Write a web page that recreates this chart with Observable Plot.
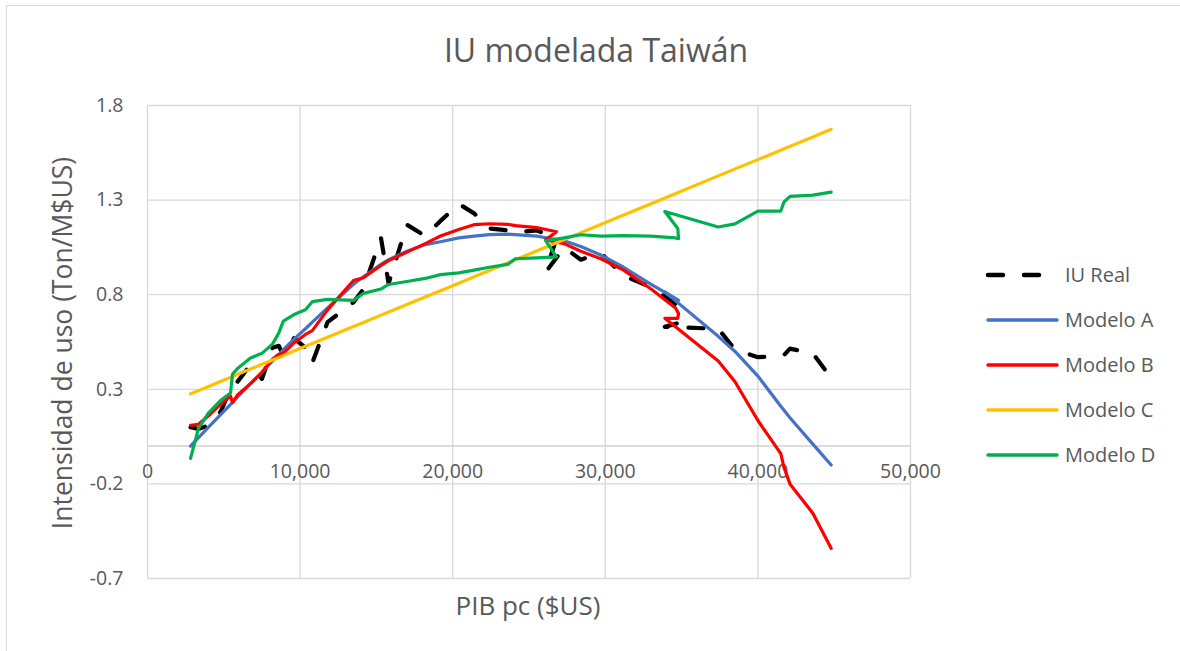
<!DOCTYPE html>
<html><head><meta charset="utf-8">
<script src="https://cdn.jsdelivr.net/npm/d3@7"></script>
<script src="https://cdn.jsdelivr.net/npm/@observablehq/plot@0.6"></script>
<style>
body{margin:0;background:#fff;font-family:"Open Sans",sans-serif;color:#595959;}
#wrap{position:relative;width:1180px;height:651px;overflow:hidden;background:#fff;}
#border{position:absolute;left:6px;top:5px;width:1200px;height:700px;border:1px solid #d9d9d9;box-sizing:border-box;}
#chart{position:absolute;left:0;top:0;}
#title{position:absolute;left:296px;width:600px;top:27px;text-align:center;font-size:32px;line-height:46px;white-space:nowrap;}
#ytitle{position:absolute;left:62px;top:343px;width:500px;margin-left:-250px;margin-top:-18px;text-align:center;font-size:26.5px;line-height:36px;transform:rotate(-90deg);white-space:nowrap;}
#xtitle{position:absolute;left:228px;width:600px;top:587px;text-align:center;font-size:26px;line-height:36px;white-space:nowrap;}
#legend{position:absolute;left:985px;top:252px;}
.row{height:45px;display:flex;align-items:center;font-size:20px;white-space:nowrap;}
.row svg{margin-right:4px;}
</style></head>
<body>
<div id="wrap">
  <div id="border"></div>
  <div id="chart"></div>
  <div id="title">IU modelada Taiwán</div>
  <div id="ytitle">Intensidad de uso (Ton/M$US)</div>
  <div id="xtitle">PIB pc ($US)</div>
  <div id="legend"></div>
</div>
<script>
const pib = [2820,3340,4000,4780,5440,5570,5900,6750,7500,8200,8600,8900,9600,10350,10800,11800,13500,14150,15300,15800,17000,18200,19200,20400,21400,22400,23600,24100,25500,26800,26100,27300,28400,29700,31200,33000,34600,34800,34750,33900,37400,38500,40000,41500,41700,42100,43600,44800];
const iuReal = [0.10,0.09,0.11,0.18,0.30,0.31,0.34,0.43,0.355,0.52,0.53,0.48,0.57,0.52,0.44,0.655,0.76,0.83,1.10,0.86,1.17,1.11,1.19,1.28,1.23,1.15,1.14,1.13,1.14,1.10,0.92,1.05,0.985,1.02,0.90,0.84,0.75,0.70,0.65,0.63,0.62,0.51,0.47,0.475,0.48,0.515,0.49,0.36];
const modeloA = [0.0,0.045,0.1,0.165,0.22,0.23,0.26,0.33,0.39,0.45,0.48,0.51,0.565,0.62,0.655,0.73,0.855,0.895,0.96,0.985,1.03,1.065,1.08,1.10,1.11,1.118,1.12,1.118,1.11,1.09,1.10,1.085,1.055,1.01,0.945,0.855,0.78,0.77,0.772,0.815,0.58,0.50,0.37,0.21,0.19,0.15,0.01,-0.1];
const modeloB = [0.11,0.115,0.16,0.22,0.265,0.23,0.27,0.33,0.39,0.46,0.485,0.49,0.545,0.59,0.61,0.72,0.875,0.89,0.955,0.98,1.025,1.07,1.11,1.145,1.17,1.175,1.172,1.165,1.155,1.133,1.09,1.07,1.03,0.99,0.93,0.83,0.73,0.70,0.675,0.675,0.45,0.34,0.135,-0.04,-0.11,-0.2,-0.355,-0.54];
const modeloC = [0.276,0.293,0.315,0.341,0.363,0.368,0.379,0.407,0.432,0.455,0.468,0.478,0.502,0.527,0.542,0.575,0.632,0.653,0.692,0.708,0.748,0.788,0.821,0.861,0.895,0.928,0.968,0.985,1.031,1.075,1.051,1.091,1.128,1.171,1.221,1.281,1.334,1.341,1.339,1.311,1.428,1.465,1.514,1.564,1.571,1.584,1.634,1.674];
const modeloD = [-0.065,0.093,0.175,0.24,0.28,0.38,0.41,0.466,0.49,0.54,0.597,0.66,0.695,0.72,0.763,0.775,0.77,0.807,0.83,0.854,0.87,0.886,0.906,0.915,0.93,0.945,0.96,0.99,0.995,1.0,1.085,1.10,1.117,1.11,1.112,1.11,1.10,1.096,1.15,1.24,1.158,1.174,1.242,1.242,1.289,1.32,1.326,1.342];
const seriesNames = ["IU Real","Modelo A","Modelo B","Modelo C","Modelo D"];
const seriesColors = ["#000000","#4472C4","#FF0000","#FFC000","#00B050"];
const yTicks = [-0.7,-0.2,0.3,0.8,1.3,1.8];
const xTicks = [0,10000,20000,30000,40000,50000];

const seriesValues = [iuReal, modeloA, modeloB, modeloC, modeloD];
const tables = seriesValues.map(vals => pib.map((x,i)=>({x, y: vals[i]})));

const lineMarks = tables.map((t,s) => Plot.line(t, {
  x:"x", y:"y", stroke: seriesColors[s],
  strokeWidth: s===0 ? 4.2 : 3.2,
  strokeDasharray: s===0 ? "15,21" : null,
  strokeLinecap: "round", strokeLinejoin: "round"
}));

const plot = Plot.plot({
  width:1180, height:651,
  marginLeft:147, marginRight:270, marginTop:105, marginBottom:73,
  x:{domain:[0,50000], axis:null},
  y:{domain:[-0.7,1.8], axis:null},
  style:{fontFamily:'"Open Sans", sans-serif', fontSize:"19.5px", color:"#595959", background:"transparent", overflow:"visible"},
  marks:[
    Plot.ruleX(xTicks,{stroke:"#d9d9d9", strokeWidth:1.3}),
    Plot.ruleY(yTicks,{stroke:"#d9d9d9", strokeWidth:1.3}),
    Plot.ruleY([0],{stroke:"#d0d0d0", strokeWidth:1.5}),
    Plot.axisY({ticks:yTicks, tickSize:0, tickPadding:24, tickFormat:d=>d.toFixed(1), label:null, fill:"#595959"}),
    Plot.text(xTicks,{x:d=>d, y:()=>0, dy:26, text:d=>d3.format(",")(d), fill:"#595959"}),
    ...lineMarks
  ]
});
document.getElementById("chart").appendChild(plot);

const legend = document.getElementById("legend");
seriesNames.forEach((name,s)=>{
  const row = document.createElement("div");
  row.className = "row";
  const dash = s===0 ? 'stroke-dasharray="15,21"' : '';
  row.innerHTML = `<svg width="76" height="10"><line x1="3" y1="5" x2="72" y2="5" stroke="${seriesColors[s]}" stroke-width="${s===0?4.5:3.5}" stroke-linecap="round" ${dash}/></svg><span>${name}</span>`;
  legend.appendChild(row);
});
</script>
</body></html>
